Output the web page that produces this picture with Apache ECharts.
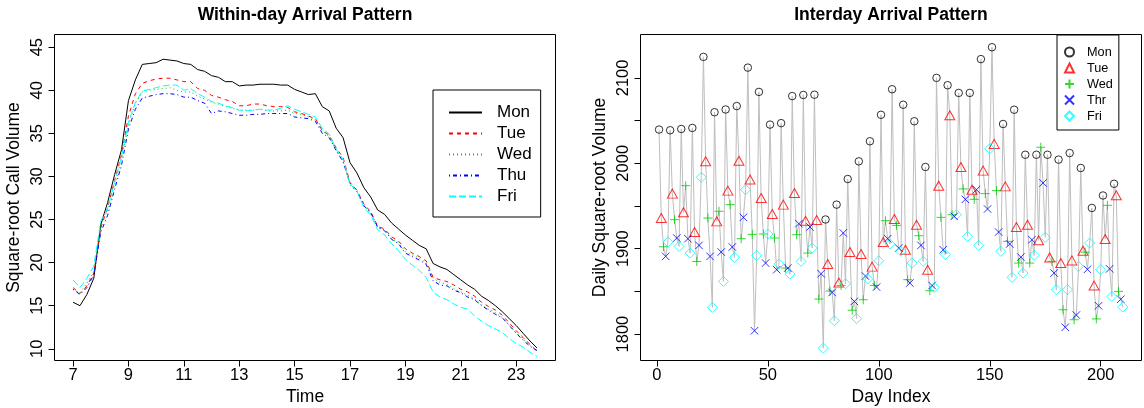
<!DOCTYPE html>
<html>
<head>
<meta charset="utf-8">
<script src="https://cdn.jsdelivr.net/npm/echarts@6/dist/echarts.min.js"></script>
<style>
    html, body { margin: 0; padding: 0; background: #fff; }
    #chart { width: 1144px; height: 408px; }
</style>
</head>
<body>
<div id="chart"></div>
<script>
// within-day: quarter-hour time points
var times = [7, 7.25, 7.5, 7.75, 8, 8.25, 8.5, 8.75,
    9, 9.25, 9.5, 9.75, 10, 10.25, 10.5, 10.75,
    11, 11.25, 11.5, 11.75, 12, 12.25, 12.5, 12.75,
    13, 13.25, 13.5, 13.75, 14, 14.25, 14.5, 14.75,
    15, 15.25, 15.5, 15.75, 16, 16.25, 16.5, 16.75,
    17, 17.25, 17.5, 17.75, 18, 18.25, 18.5, 18.75,
    19, 19.25, 19.5, 19.75, 20, 20.25, 20.5, 20.75,
    21, 21.25, 21.5, 21.75, 22, 22.25, 22.5, 22.75,
    23, 23.25, 23.5, 23.75]

var monCurve = [15.4, 15.0, 16.3, 18.2, 24.4, 27.0, 30.2, 33.1,
    38.8, 41.2, 43.0, 43.1, 43.2, 43.6, 43.5, 43.4,
    43.1, 43.0, 42.4, 42.2, 41.7, 41.5, 41.0, 41.0,
    40.5, 40.6, 40.6, 40.7, 40.7, 40.7, 40.6, 40.6,
    40.1, 39.8, 39.5, 39.6, 38.1, 37.6, 35.6, 34.5,
    31.6, 30.4, 28.7, 27.6, 26.1, 25.6, 24.6, 23.9,
    23.2, 22.6, 22.0, 21.6, 19.9, 19.5, 19.2, 18.6,
    18.0, 17.4, 16.9, 16.1, 15.6, 15.0, 14.3, 13.5,
    12.7, 11.8, 10.9, 10.1]
var tueCurve = [17.1, 16.4, 17.3, 18.8, 24.0, 26.4, 29.5, 32.5,
    37.0, 39.6, 40.8, 41.1, 41.3, 41.4, 41.4, 41.2,
    41.0, 41.0, 40.2, 40.0, 39.4, 39.2, 38.9, 38.7,
    38.2, 38.2, 38.4, 38.4, 38.2, 38.1, 38.1, 38.0,
    37.5, 37.3, 37.0, 36.7, 35.3, 34.8, 33.3, 32.2,
    29.3, 28.4, 26.8, 25.9, 24.2, 23.9, 23.0, 22.5,
    21.6, 21.1, 20.7, 20.2, 18.3, 18.0, 17.8, 17.4,
    16.9, 16.6, 16.1, 15.4, 14.9, 14.5, 13.9, 13.0,
    12.1, 11.3, 10.5, 9.7]
var wedCurve = [16.9, 16.5, 17.6, 19.0, 24.4, 26.0, 29.0, 32.0,
    36.0, 38.5, 39.8, 40.0, 40.1, 40.2, 40.3, 40.0,
    39.8, 39.8, 39.3, 39.0, 38.6, 38.4, 38.1, 37.9,
    37.7, 37.7, 37.7, 37.8, 37.6, 37.6, 37.6, 37.7,
    37.3, 37.2, 36.9, 36.6, 35.3, 34.6, 33.0, 31.8,
    29.0, 28.2, 26.6, 25.7, 24.1, 23.8, 22.8, 22.3,
    21.3, 20.9, 20.5, 20.0, 18.2, 17.7, 17.5, 17.0,
    16.6, 16.2, 15.8, 15.1, 14.6, 14.2, 13.6, 12.8,
    11.9, 11.1, 10.4, 9.8]
var thuCurve = [16.9, 16.3, 17.1, 18.6, 23.5, 25.5, 28.5, 31.3,
    35.5, 37.8, 39.1, 39.3, 39.5, 39.6, 39.6, 39.5,
    39.2, 39.2, 38.8, 38.5, 37.3, 37.6, 37.5, 37.3,
    37.1, 37.1, 37.2, 37.2, 37.3, 37.3, 37.3, 37.3,
    36.9, 36.8, 36.7, 36.4, 35.0, 34.5, 33.0, 31.7,
    29.2, 28.3, 26.6, 25.8, 24.1, 23.7, 22.7, 22.2,
    21.1, 20.7, 20.3, 19.8, 17.9, 17.4, 17.3, 16.8,
    16.5, 16.0, 15.7, 15.0, 14.5, 14.0, 13.6, 12.7,
    11.8, 11.0, 10.3, 9.8]
var friCurve = [18.0, 17.1, 18.2, 19.6, 24.8, 26.3, 29.3, 32.3,
    36.3, 38.6, 39.9, 40.1, 40.3, 40.5, 40.6, 40.6,
    40.0, 40.2, 39.6, 39.2, 38.7, 38.5, 38.2, 38.0,
    37.7, 37.6, 37.7, 37.8, 37.7, 37.7, 37.9, 38.2,
    37.8, 37.5, 37.2, 36.9, 35.6, 34.9, 33.2, 32.0,
    29.1, 28.3, 26.4, 25.5, 23.8, 23.2, 22.2, 21.4,
    20.4, 19.7, 19.1, 18.3, 16.6, 16.0, 15.7, 15.2,
    14.8, 14.6, 13.8, 13.2, 12.7, 12.3, 11.9, 11.2,
    10.6, 10.2, 9.6, 9.1]

var hourTicks = [7, 9, 11, 13, 15, 17, 19, 21, 23]
var volumeTicks = [10, 15, 20, 25, 30, 35, 40, 45]

// interday: one value per week for each weekday (days 1..210, Mon first)
var monDaily = [2039.5, 2038.7, 2040.2, 2041.4, 2124.6, 2059.8, 2063.0, 2067.0, 2112.0, 2083.6,
    2045.3, 2047.0, 2078.7, 2080.0, 2080.3, 1934.2, 1951.6, 1981.6, 2002.3, 2025.8,
    2056.8, 2086.7, 2068.6, 2049.2, 1995.7, 2100.0, 2091.4, 2082.4, 2082.4, 2122.0,
    2135.9, 2046.0, 2062.7, 2010.0, 2010.0, 2010.0, 2004.3, 2012.0, 1994.5, 1947.7,
    1962.3, 1976.0]
var tueDaily = [1935.9, 1964.5, 1942.6, 1919.5, 2002.3, 1932.0, 1968.0, 2003.0, 1981.0, 1959.4,
    1940.6, 1951.6, 1965.2, 1932.8, 1933.6, 1882.0, 1860.5, 1896.1, 1893.8, 1879.0,
    1907.8, 1934.8, 1898.8, 1928.1, 1875.4, 1973.8, 2056.3, 1995.7, 1969.1, 1991.4,
    2022.7, 1973.0, 1925.4, 1928.1, 1909.8, 1889.8, 1883.2, 1886.3, 1897.7, 1856.8,
    1911.3, 1962.5]
var wedDaily = [1902.3, 1934.0, 1973.8, 1885.0, 1935.9, 1943.8, 1951.6, 1911.7, 1916.8, 1917.2,
    1912.5, 1877.3, 1916.4, 1894.9, 1841.0, 1850.4, 1857.0, 1828.0, 1840.2, 1857.0,
    1932.8, 1927.3, 1863.7, 1915.2, 1850.8, 1936.7, 1939.8, 1970.0, 1957.8, 1964.5,
    1968.0, 1908.6, 1883.2, 1883.2, 2018.8, 1885.2, 1828.5, 1816.8, 1895.9, 1817.8,
    1950.8, 1850.0]
var thrDaily = [1891.0, 1912.5, 1911.7, 1903.9, 1891.0, 1896.1, 1902.0, 1936.7, 1803.9, 1883.2,
    1875.4, 1877.3, 1929.3, 1925.4, 1870.7, 1848.8, 1918.4, 1838.3, 1868.0, 1855.1,
    1911.7, 1900.8, 1859.8, 1903.9, 1857.0, 1898.8, 1937.9, 1957.8, 1969.1, 1946.5,
    1919.5, 1905.5, 1890.2, 1910.5, 1977.0, 1871.5, 1808.0, 1822.3, 1875.8, 1833.2,
    1876.4, 1840.8]
var friDaily = [1907.8, 1902.7, 1894.9, 1983.6, 1831.3, 1861.7, 1889.8, 1969.1, 1892.0, 1917.2,
    1882.0, 1870.3, 1885.2, 1900.8, 1783.6, 1815.6, 1859.0, 1818.2, 1864.6, 1885.9,
    1905.5, 1896.9, 1883.2, 1885.2, 1854.7, 1893.0, 1939.8, 1914.5, 1903.9, 2017.0,
    1896.9, 1866.4, 1871.5, 1892.2, 1913.3, 1852.0, 1852.0, 1879.3, 1906.6, 1875.4,
    1844.1, 1831.6]

var dayTicks = [0, 50, 100, 150, 200]
var dailyTicks = [1800, 1850, 1900, 1950, 2000, 2050, 2100]
var dailyLabels = [1800, 1900, 2000, 2100]

var font = '"Liberation Sans", Arial, Helvetica, sans-serif'

// day index of the i-th value of a weekday (offset 0 = Mon)
function dayPoints(arr, offset) {
    return arr.map(function (v, i) { return [1 + 5 * i + offset, v] })
}
function curvePoints(arr) {
    return times.map(function (t, i) { return [t, arr[i]] })
}

var weekArrays = [monDaily, tueDaily, wedDaily, thrDaily, friDaily]
var allDays = []
for (var i = 0; i < monDaily.length; i++) {
    for (var d = 0; d < 5; d++) {
        allDays.push([1 + 5 * i + d, weekArrays[d][i]])
    }
}

function curveSeries(name, arr, color, dash) {
    return {
        type: 'line', name: name, xAxisIndex: 0, yAxisIndex: 0,
        data: curvePoints(arr), symbol: 'none', silent: true,
        lineStyle: { color: color, width: 1, type: dash },
        itemStyle: { color: color }
    }
}
function dotSeries(name, arr, offset, symbol, size, color) {
    return {
        type: 'scatter', name: name, xAxisIndex: 1, yAxisIndex: 1,
        data: dayPoints(arr, offset), symbol: symbol, symbolSize: size, silent: true, z: 3,
        itemStyle: { color: 'rgba(0,0,0,0)', borderColor: color, borderWidth: 1 }
    }
}

var plusPath = 'path://M5 0L5 10M0 5L10 5'
var crossPath = 'path://M0 0L10 10M0 10L10 0'

var axisText = { color: '#000', fontFamily: font, fontSize: 16.5 }
var nameText = { color: '#000', fontFamily: font, fontSize: 17.5 }
var tickStyle = { color: '#000', width: 1 }
var plainNumber = function (v) { return String(v) }

var myChart = echarts.init(document.getElementById('chart'))
var option = {
    animation: false,
    backgroundColor: '#fff',
    textStyle: { fontFamily: font },
    title: [
        { text: 'Within-day Arrival Pattern', left: 305, top: 6, textAlign: 'center', padding: 0,
          textStyle: { fontFamily: font, fontSize: 17.5, fontWeight: 'bold', color: '#000' } },
        { text: 'Interday Arrival Pattern', left: 891, top: 6, textAlign: 'center', padding: 0,
          textStyle: { fontFamily: font, fontSize: 17.5, fontWeight: 'bold', color: '#000' } }
    ],
    grid: [
        { left: 54.5, top: 34.5, width: 501, height: 326, show: true, borderColor: '#000', borderWidth: 1,
          containLabel: false, outerBoundsMode: 'none' },
        { left: 640.5, top: 34.5, width: 501, height: 326, show: true, borderColor: '#000', borderWidth: 1,
          containLabel: false, outerBoundsMode: 'none' }
    ],
    legend: [
        {
            data: ['Mon', 'Tue', 'Wed', 'Thu', 'Fri'],
            orient: 'vertical', left: 433, top: 90,
            padding: [12, 9, 10, 15], itemGap: 0, itemWidth: 33, itemHeight: 14,
            borderColor: '#000', borderWidth: 1, selectedMode: false,
            itemStyle: { opacity: 0 },
            textStyle: { color: '#000', fontFamily: font, fontSize: 17, lineHeight: 21, padding: [0, 0, 0, 10] }
        },
        {
            data: ['Mon ', 'Tue ', 'Wed ', 'Thr', 'Fri '],
            formatter: function (n) { return n.trim() },
            orient: 'vertical', left: 1057, top: 35,
            padding: [9, 6, 6, 7], itemGap: 0, itemWidth: 9, itemHeight: 9,
            borderColor: '#000', borderWidth: 1, selectedMode: false,
            textStyle: { color: '#000', fontFamily: font, fontSize: 12.7, lineHeight: 16, padding: [0, 0, 0, 8] }
        }
    ],
    xAxis: [
        {
            type: 'value', gridIndex: 0, min: 6.33, max: 24.42,
            axisLine: { show: false, onZero: false }, splitLine: { show: false },
            axisTick: { show: true, length: 6, lineStyle: tickStyle, customValues: hourTicks },
            axisLabel: Object.assign({ customValues: hourTicks, margin: 6, formatter: plainNumber }, axisText),
            name: 'Time', nameLocation: 'middle', nameGap: 26, nameTextStyle: nameText
        },
        {
            type: 'value', gridIndex: 1, min: -7.36, max: 218.36,
            axisLine: { show: false, onZero: false }, splitLine: { show: false },
            axisTick: { show: true, length: 6, lineStyle: tickStyle, customValues: dayTicks },
            axisLabel: Object.assign({ customValues: dayTicks, margin: 6, formatter: plainNumber }, axisText),
            name: 'Day Index', nameLocation: 'middle', nameGap: 26, nameTextStyle: nameText
        }
    ],
    yAxis: [
        {
            type: 'value', gridIndex: 0, min: 8.64, max: 46.47,
            axisLine: { show: false, onZero: false }, splitLine: { show: false },
            axisTick: { show: true, length: 6, lineStyle: tickStyle, customValues: volumeTicks },
            axisLabel: Object.assign({ customValues: volumeTicks, rotate: 90, margin: 9, formatter: plainNumber }, axisText),
            name: 'Square-root Call Volume', nameLocation: 'middle', nameRotate: 90, nameGap: 31,
            nameTextStyle: nameText
        },
        {
            type: 'value', gridIndex: 1, min: 1769.1, max: 2150.8,
            axisLine: { show: false, onZero: false }, splitLine: { show: false },
            axisTick: { show: true, length: 6, lineStyle: tickStyle, customValues: dailyTicks },
            axisLabel: Object.assign({ customValues: dailyLabels, rotate: 90, margin: 9, formatter: plainNumber }, axisText),
            name: 'Daily Square-root Volume', nameLocation: 'middle', nameRotate: 90, nameGap: 31,
            nameTextStyle: nameText
        }
    ],
    series: [
        curveSeries('Mon', monCurve, '#000000', 'solid'),
        curveSeries('Tue', tueCurve, '#FF0000', [4, 4]),
        curveSeries('Wed', wedCurve, '#00CD00', [1, 3]),
        curveSeries('Thu', thuCurve, '#0000FF', [1, 3, 4, 3]),
        curveSeries('Fri', friCurve, '#00FFFF', [7, 3]),
        {
            type: 'line', name: 'all days', xAxisIndex: 1, yAxisIndex: 1, data: allDays,
            symbol: 'none', silent: true, z: 1,
            lineStyle: { color: '#BEBEBE', width: 1 }
        },
        dotSeries('Mon ', monDaily, 0, 'circle', 7.5, '#000000'),
        dotSeries('Tue ', tueDaily, 1, 'triangle', [10, 9], '#FF0000'),
        dotSeries('Wed ', wedDaily, 2, plusPath, 9, '#00CD00'),
        dotSeries('Thr', thrDaily, 3, crossPath, 7.5, '#0000FF'),
        dotSeries('Fri ', friDaily, 4, 'diamond', 10, '#00FFFF')
    ]
}
myChart.setOption(option, true)
</script>
</body>
</html>
